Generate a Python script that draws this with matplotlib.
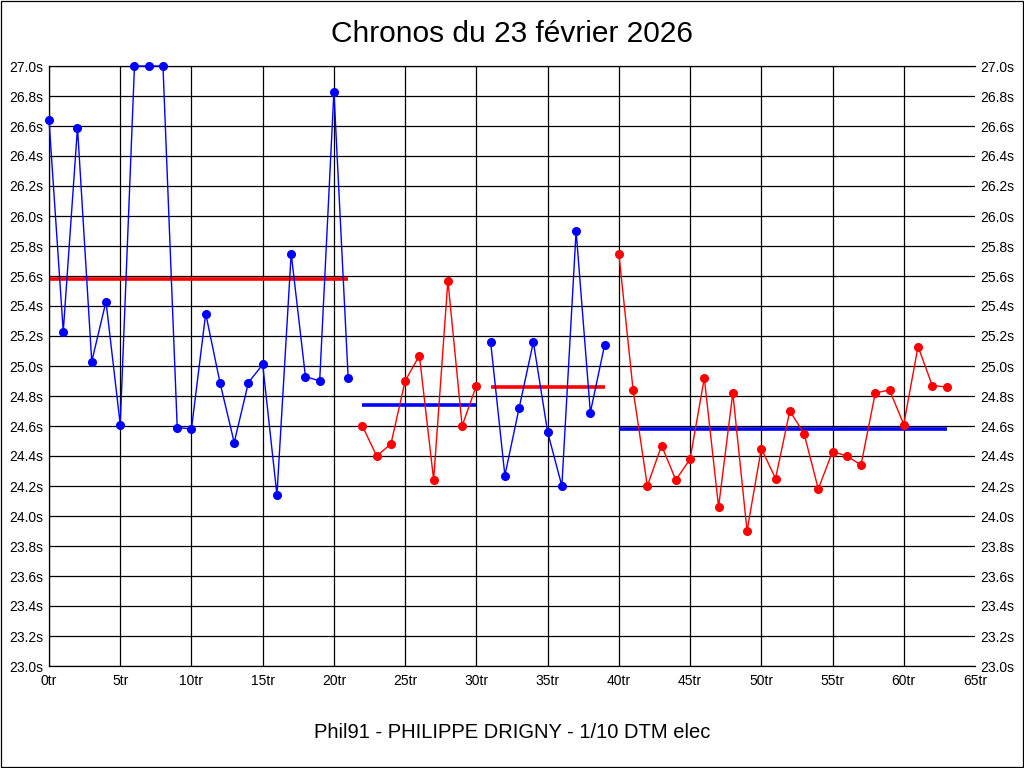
import matplotlib
matplotlib.use("Agg")
import matplotlib.pyplot as plt
from matplotlib.patches import Rectangle
from matplotlib.ticker import MultipleLocator, FuncFormatter

# ---- données ----
titre = "Chronos du 23 février 2026"
pilote = "Phil91 - PHILIPPE DRIGNY - 1/10 DTM elec"

# tours par relais (séries alternées bleu / rouge)
tours_1 = list(range(0, 22))
chronos_1 = [26.64, 25.23, 26.59, 25.03, 25.43, 24.61, 27.00, 27.00, 27.00, 24.59, 24.58,
             25.35, 24.89, 24.49, 24.89, 25.01, 24.14, 25.75, 24.93, 24.90, 26.83, 24.92]

tours_2 = list(range(22, 31))
chronos_2 = [24.60, 24.40, 24.48, 24.90, 25.07, 24.24, 25.57, 24.60, 24.87]

tours_3 = list(range(31, 40))
chronos_3 = [25.16, 24.27, 24.72, 25.16, 24.56, 24.20, 25.90, 24.69, 25.14]

tours_4 = list(range(40, 64))
chronos_4 = [25.75, 24.84, 24.20, 24.47, 24.24, 24.38, 24.92, 24.06, 24.82, 23.90, 24.45,
             24.25, 24.70, 24.55, 24.18, 24.43, 24.40, 24.34, 24.82, 24.84, 24.61, 25.13,
             24.87, 24.86]

# moyennes de chaque relais
moyennes = [25.58, 24.74, 24.86, 24.58]

series = [(tours_1, chronos_1), (tours_2, chronos_2), (tours_3, chronos_3), (tours_4, chronos_4)]
couleurs = ["#0000ff", "#ff0000", "#0000ff", "#ff0000"]
couleurs_moy = ["#ff0000", "#0000ff", "#ff0000", "#0000ff"]

plt.rcParams["font.family"] = ["Liberation Sans", "DejaVu Sans"]

fig = plt.figure(figsize=(10.24, 7.68), dpi=100)
fig.patch.set_facecolor("white")
fig.patches.append(Rectangle((0.0005, 0.0007), 0.999, 0.9986, transform=fig.transFigure,
                             fill=False, edgecolor="black", linewidth=0.9))

ax = fig.add_axes([49 / 1024, 102 / 768, 926 / 1024, 600 / 768])

for (x, y), c, m, cm in zip(series, couleurs, moyennes, couleurs_moy):
    ax.plot(x, y, color=c, linewidth=1.0, marker="o", markersize=5.5, clip_on=False, zorder=3)
    ax.plot([x[0], x[-1]], [m, m], color=cm, linewidth=2.6, zorder=2, solid_capstyle="butt")

ax.set_xlim(0, 65)
ax.set_ylim(23.0, 27.0)
ax.xaxis.set_major_locator(MultipleLocator(5))
ax.yaxis.set_major_locator(MultipleLocator(0.2))
ax.xaxis.set_major_formatter(FuncFormatter(lambda v, p: f"{v:.0f}tr"))
ax.yaxis.set_major_formatter(FuncFormatter(lambda v, p: f"{v:.1f}s"))

ax.grid(True, color="black", linewidth=0.9)
ax.set_axisbelow(True)
ax.tick_params(axis="both", length=0, labelsize=10, colors="black")
ax.tick_params(axis="y", pad=4, labelright=True)
ax.tick_params(axis="x", pad=6)

ax.spines["right"].set_visible(False)
for cote in ["left", "bottom", "top"]:
    ax.spines[cote].set_linewidth(0.9)

# pas de ligne verticale à 65tr
fig.canvas.draw()
for t, g in zip(ax.get_xticks(), ax.xaxis.get_gridlines()):
    if t >= 65:
        g.set_visible(False)

fig.text(0.5, 1 - 34 / 768, titre, ha="center", va="center", fontsize=21.5)
fig.text(0.5, 1 - 733 / 768, pilote, ha="center", va="center", fontsize=14.5)

fig.savefig("out.png", dpi=100)
